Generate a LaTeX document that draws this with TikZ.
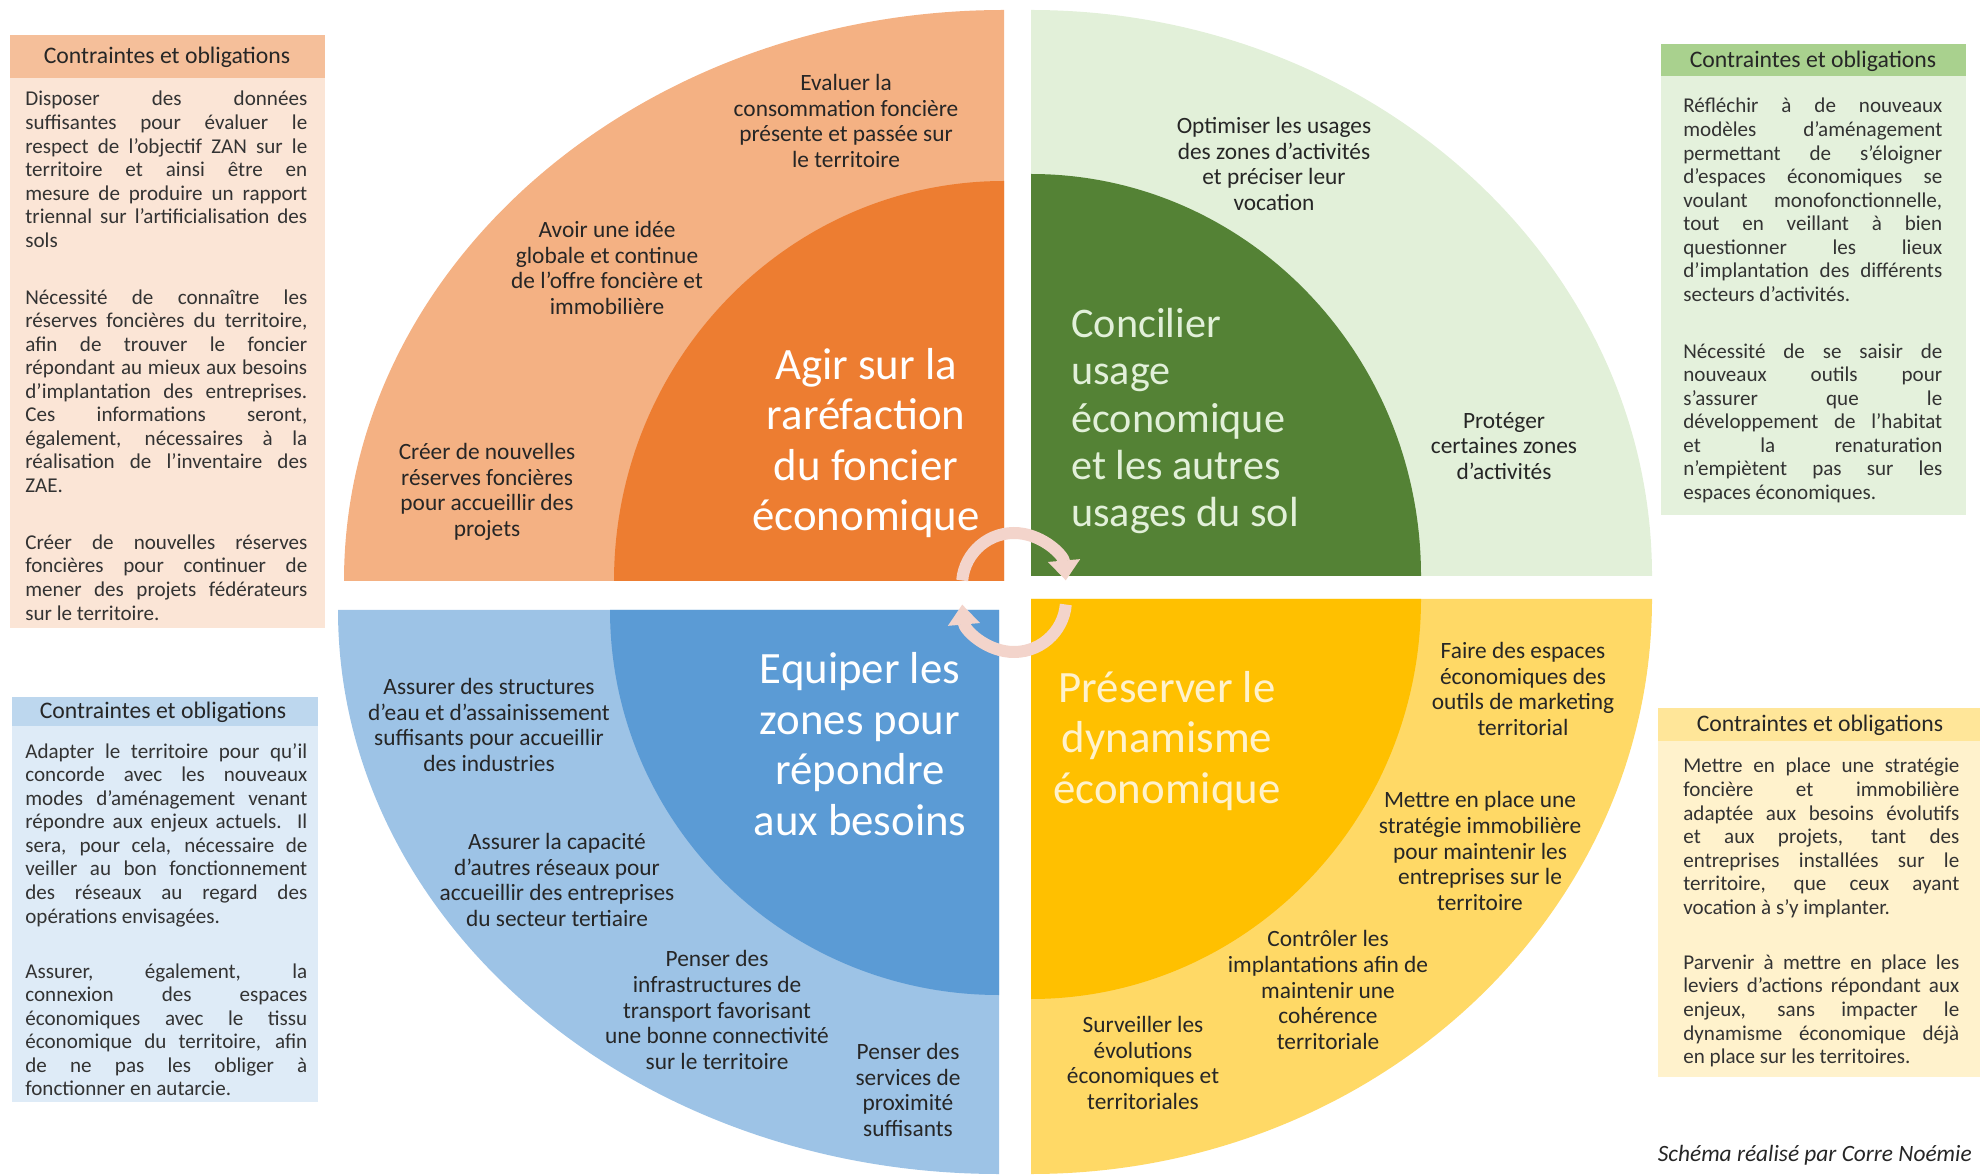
\documentclass[tikz,border=0pt]{standalone}
\usepackage{fontspec}
\setmainfont{Carlito}
\usepackage{tikz}
\usepackage{color}
\usetikzlibrary{arrows.meta,shapes}

\definecolor{orangedark}{HTML}{ED7D31}
\definecolor{orangelight}{HTML}{F4B183}
\definecolor{orangehead}{HTML}{F5BF9A}
\definecolor{orangebody}{HTML}{FBE5D6}
\definecolor{greendark}{HTML}{548235}
\definecolor{greenlight}{HTML}{E2F0D9}
\definecolor{greenhead}{HTML}{A9D18E}
\definecolor{greenbody}{HTML}{E4F1DC}
\definecolor{bluedark}{HTML}{5B9BD5}
\definecolor{bluelight}{HTML}{9DC3E6}
\definecolor{bluehead}{HTML}{BDD7EE}
\definecolor{bluebody}{HTML}{DEEBF7}
\definecolor{yellowdark}{HTML}{FFC000}
\definecolor{yellowlight}{HTML}{FFD966}
\definecolor{yellowhead}{HTML}{FFE699}
\definecolor{yellowbody}{HTML}{FFF2CC}
\definecolor{arrowpink}{RGB}{243,212,203}
\definecolor{qtext}{HTML}{262626}
\definecolor{btext}{HTML}{333333}

\begin{document}
\begin{tikzpicture}[x=0.02cm,y=0.02cm,
  quad/.style={font=\fontsize{13.3}{14.6}\selectfont,text=qtext,align=center,inner sep=0pt},
  qtitle/.style={font=\fontsize{25.5}{28.7}\selectfont,align=center,inner sep=0pt},
  boxhead/.style={font=\fontsize{13.5}{15}\selectfont,text=qtext,inner sep=0pt},
  boxbody/.style={font=\fontsize{12}{13.4}\selectfont,text=btext,align=justify,inner sep=0pt,anchor=north west},
  cycarrow/.style={draw=arrowpink,line width=0.24cm,-{Triangle[width=0.62cm,length=0.4cm]}}]
\useasboundingbox (0,0) rectangle (1980,1174);

\begin{scope}[]
\fill[orangelight] (1004,593) -- (344,593) arc[start angle=180,end angle=90,x radius=660,y radius=571] -- cycle;
\fill[orangedark] (1004,593) -- (614,593) arc[start angle=180,end angle=90,x radius=390,y radius=400] -- cycle;
\fill[greenlight] (1031,598) -- (1652,598) arc[start angle=0,end angle=90,x radius=621,y radius=566] -- cycle;
\fill[greendark] (1031,598) -- (1421,598) arc[start angle=0,end angle=90,x radius=390,y radius=402] -- cycle;
\fill[bluelight] (999,564) -- (338,564) arc[start angle=180,end angle=270,x radius=661,y radius=564] -- cycle;
\fill[bluedark] (999,564) -- (610,564) arc[start angle=180,end angle=270,x radius=389,y radius=385] -- cycle;
\fill[yellowlight] (1031,575) -- (1652,575) arc[start angle=0,end angle=-90,x radius=621,y radius=575] -- cycle;
\fill[yellowdark] (1031,575) -- (1421,575) arc[start angle=0,end angle=-90,x radius=390,y radius=400] -- cycle;
\end{scope}

\coordinate (uparc) at (1014,589);
\coordinate (lowarc) at (1014,574);
\draw[cycarrow] ([shift={(175:52)}]uparc) arc[start angle=175,end angle=5,radius=52];
\draw[cycarrow] ([shift={(-5:52)}]lowarc) arc[start angle=-5,end angle=-175,radius=52];

\node[qtitle,text=white] (agir) at (866,731) {Agir sur la\\raréfaction\\du foncier\\économique};
\node[quad] (evaluer) at (846,1053) {Evaluer la\\consommation foncière\\présente et passée sur\\le territoire};
\node[quad] (avoir) at (607,906) {Avoir une idée\\globale et continue\\de l’offre foncière et\\immobilière};
\node[quad] (creer) at (487,682) {Créer de nouvelles\\réserves foncières\\pour accueillir des\\projets};

\node[qtitle,font=\fontsize{24}{26.8}\selectfont,text=greenlight,align=left,anchor=west] (concilier) at (1071,753) {Concilier\\usage\\économique\\et les autres\\usages du sol};
\node[quad] (optimiser) at (1274,1010) {Optimiser les usages\\des zones d’activités\\et préciser leur\\vocation};
\node[quad] (proteger) at (1504,728) {Protéger\\certaines zones\\d’activités};

\node[qtitle,text=white] (equiper) at (860,430) {Equiper les\\zones pour\\répondre\\aux besoins};
\node[quad] (eau) at (489,449) {Assurer des structures\\d’eau et d’assainissement\\suffisants pour accueillir\\des industries};
\node[quad] (reseaux) at (557,294) {Assurer la capacité\\d’autres réseaux pour\\accueillir des entreprises\\du secteur tertiaire};
\node[quad] (transport) at (717,164) {Penser des\\infrastructures de\\transport favorisant\\une bonne connectivité\\sur le territoire};
\node[quad] (services) at (908,84) {Penser des\\services de\\proximité\\suffisants};

\node[qtitle,text=yellowbody] (preserver) at (1167,433) {Préserver le\\dynamisme\\économique};
\node[quad] (marketing) at (1523,485) {Faire des espaces\\économiques des\\outils de marketing\\territorial};
\node[quad] (strategie) at (1480,323) {Mettre en place une\\stratégie immobilière\\pour maintenir les\\entreprises sur le\\territoire};
\node[quad] (controler) at (1328,184) {Contrôler les\\implantations afin de\\maintenir une\\cohérence\\territoriale};
\node[quad] (surveiller) at (1143,111) {Surveiller les\\évolutions\\économiques et\\territoriales};

\fill[orangebody] (10,546) rectangle (325,1096);
\fill[orangehead] (10,1096) rectangle (325,1139);
\node[boxhead] (tlhead) at (167,1117) {Contraintes et obligations};
\node[boxbody,text width=5.64cm] (tlbody) at (25,1083) {Disposer des données\linebreak suffisantes pour évaluer le\linebreak respect de l’objectif ZAN sur le\linebreak territoire et ainsi être en\linebreak mesure de produire un rapport\linebreak triennal sur l’artificialisation des\linebreak sols\\[19pt]
Nécessité de connaître les\linebreak réserves foncières du territoire,\linebreak afin de trouver le foncier\linebreak répondant au mieux aux besoins\linebreak d’implantation des entreprises.\linebreak Ces informations seront,\linebreak également, nécessaires à la\linebreak réalisation de l’inventaire des\linebreak ZAE.\\[19pt]
Créer de nouvelles réserves\linebreak foncières pour continuer de\linebreak mener des projets fédérateurs\linebreak sur le territoire.};

\fill[bluebody] (12,72) rectangle (318,448);
\fill[bluehead] (12,448) rectangle (318,477);
\node[boxhead] (blhead) at (163,462) {Contraintes et obligations};
\node[boxbody,text width=5.64cm] (blbody) at (25,431) {Adapter le territoire pour qu’il\linebreak concorde avec les nouveaux\linebreak modes d’aménagement venant\linebreak répondre aux enjeux actuels. Il\linebreak sera, pour cela, nécessaire de\linebreak veiller au bon fonctionnement\linebreak des réseaux au regard des\linebreak opérations envisagées.\\[18pt]
Assurer, également, la\linebreak connexion des espaces\linebreak économiques avec le tissu\linebreak économique du territoire, afin\linebreak de ne pas les obliger à\linebreak fonctionner en autarcie.};

\fill[greenbody] (1661,659) rectangle (1966,1098);
\fill[greenhead] (1661,1098) rectangle (1966,1130);
\node[boxhead] (trhead) at (1813,1113) {Contraintes et obligations};
\node[boxbody,text width=5.18cm] (trbody) at (1683,1076) {Réfléchir à de nouveaux\linebreak modèles d’aménagement\linebreak permettant de s’éloigner\linebreak d’espaces économiques se\linebreak voulant monofonctionnelle,\linebreak tout en veillant à bien\linebreak questionner les lieux\linebreak d’implantation des différents\linebreak secteurs d’activités.\\[19pt]
Nécessité de se saisir de\linebreak nouveaux outils pour\linebreak s’assurer que le\linebreak développement de l’habitat\linebreak et la renaturation\linebreak n’empiètent pas sur les\linebreak espaces économiques.};

\fill[yellowbody] (1658,97) rectangle (1980,433);
\fill[yellowhead] (1658,433) rectangle (1980,466);
\node[boxhead] (brhead) at (1820,449) {Contraintes et obligations};
\node[boxbody,text width=5.52cm] (brbody) at (1683,416) {Mettre en place une stratégie\linebreak foncière et immobilière\linebreak adaptée aux besoins évolutifs\linebreak et aux projets, tant des\linebreak entreprises installées sur le\linebreak territoire, que ceux ayant\linebreak vocation à s’y implanter.\\[18pt]
Parvenir à mettre en place les\linebreak leviers d’actions répondant aux\linebreak enjeux, sans impacter le\linebreak dynamisme économique déjà\linebreak en place sur les territoires.};

\node[font=\fontsize{13.3}{15}\selectfont\itshape,text=qtext,anchor=east,inner sep=0pt] (auteur) at (1972,19) {Schéma réalisé par Corre Noémie};
\end{tikzpicture}
\end{document}
